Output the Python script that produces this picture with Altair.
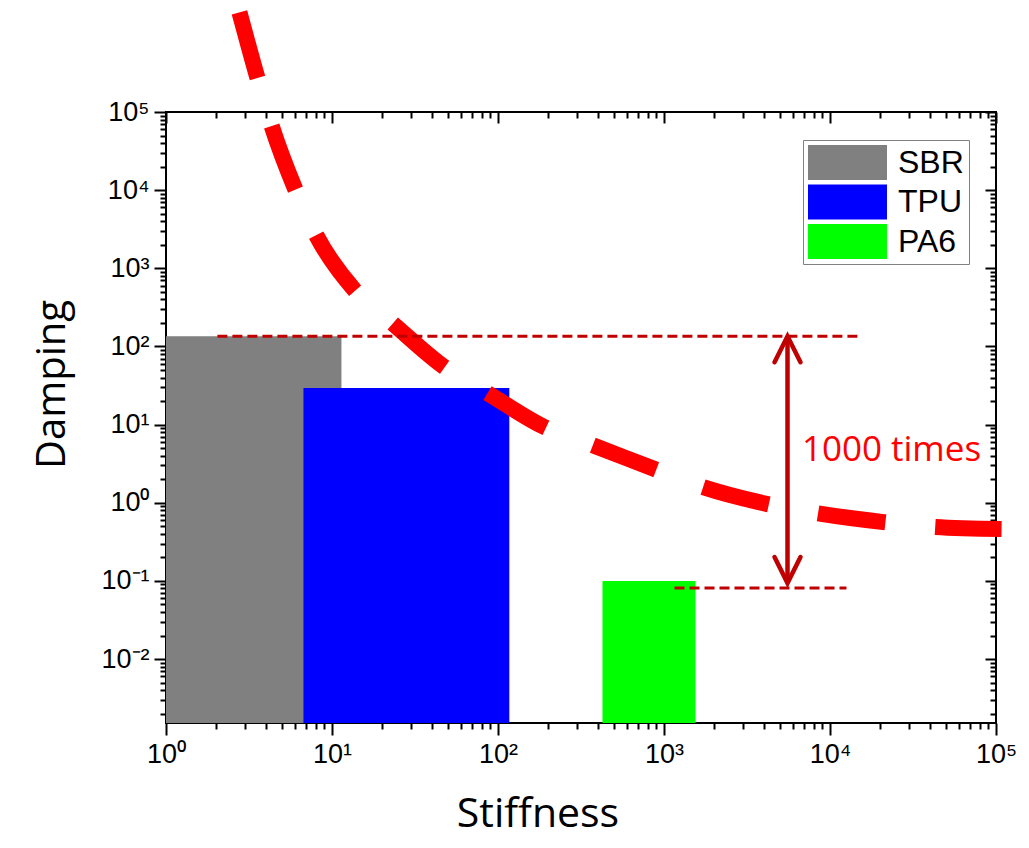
import altair as alt
import pandas as pd

# ---------------- data ----------------
materials = ["SBR", "TPU", "PA6"]
bar_x_lo = [1.0, 6.73, 426.0]
bar_x_hi = [11.4, 117.0, 1549.0]
bar_top = [135.0, 29.3, 0.1]
bar_colors = ["#808080", "#0000ff", "#00ff00"]

X_MIN, X_MAX = 1.0, 1e5
Y_MIN, Y_MAX = 0.00152, 1e5

# big red dashed trend curve
curve_x = [2.77, 3.56, 4.32, 6.03, 8.07, 13.7, 23.1, 47.6, 86.4, 190.6,
           371.0, 877.0, 1706.0, 4200.0, 8290.0, 21000.0, 42650.0, 108000.0]
curve_y = [1.88e6, 2.70e5, 6.76e4, 1.01e4, 2612.0, 525.0, 199.0, 54.3, 25.3, 9.29,
           5.47, 2.70, 1.59, 0.962, 0.738, 0.566, 0.489, 0.460]

# thin dark-red dashed reference lines
ref_y = [135.0, 0.081]
ref_x_lo = [2.04, 1157.0]
ref_x_hi = [15270.0, 12570.0]

# double-headed arrow
arrow_x = [5546.0]
arrow_top = [135.0]
arrow_bottom = [0.0937]

# annotation
note_text = ["1000 times"]
note_x = [23460.0]
note_y = [4.71]

# axis ticks / labels
x_major = [1, 10, 100, 1000, 10000, 100000]
x_labels = ["10\u2070", "10\u00b9", "10\u00b2", "10\u00b3", "10\u2074", "10\u2075"]
y_major = [0.01, 0.1, 1, 10, 100, 1000, 10000, 100000]
y_labels = ["10\u207b\u00b2", "10\u207b\u00b9", "10\u2070", "10\u00b9", "10\u00b2",
            "10\u00b3", "10\u2074", "10\u2075"]
minor_steps = [2, 3, 4, 5, 6, 7, 8, 9]
x_minor = [k * 10.0 ** d for d in range(0, 5) for k in minor_steps]
y_minor = [k * 10.0 ** d for d in range(-3, 5) for k in minor_steps if k * 10.0 ** d >= Y_MIN]


def label_expr(values, labels):
    parts = [f"datum.value == {v} ? '{l}'" for v, l in zip(values, labels)]
    return " : ".join(parts) + " : ''"


# ---------------- tables ----------------
bars = pd.DataFrame({"material": materials, "lo": bar_x_lo, "hi": bar_x_hi,
                     "top": bar_top, "base": [Y_MIN] * len(materials)})
curve = pd.DataFrame({"x": curve_x, "y": curve_y})
refs = pd.DataFrame({"lo": ref_x_lo, "hi": ref_x_hi, "y": ref_y})
shaft = pd.DataFrame({"x": arrow_x, "top": arrow_top, "bottom": arrow_bottom})
heads = pd.DataFrame({"x": arrow_x * 2, "y": arrow_top + arrow_bottom, "angle": [0, 180]})
note = pd.DataFrame({"t": note_text, "x": note_x, "y": note_y})

xs = alt.Scale(type="log", domain=[X_MIN, X_MAX], nice=False)
ys = alt.Scale(type="log", domain=[Y_MIN, Y_MAX], nice=False)

DARK_RED = "#c00000"
LABEL_FONT = "Liberation Sans"
TITLE_FONT = "Open Sans"

legend = alt.Legend(
    title=None, orient="none", legendX=637, legendY=28,
    symbolType="M-1,-1H3.514V1H-1Z", symbolSize=1225, symbolStrokeWidth=0,
    labelFont=LABEL_FONT, labelFontSize=32, labelColor="black", labelOffset=55,
    labelExpr="datum.label + '\u00a0'",
    rowPadding=4.5, padding=5, strokeColor="#808080", fillColor="white",
    cornerRadius=0,
)

bar_layer = alt.Chart(bars).mark_rect(clip=False).encode(
    x=alt.X("lo:Q", scale=xs, axis=alt.Axis(
        orient="bottom", values=x_major, labelExpr=label_expr(x_major, x_labels),
        tickSize=12, labelPadding=6, labelFlush=False, labelOverlap=False,
        title="Stiffness", titleX=371.5, titleY=103, titleAlign="center",
        titleBaseline="alphabetic", titleFontSize=41)),
    x2="hi:Q",
    y=alt.Y("top:Q", scale=ys, axis=alt.Axis(
        orient="left", values=y_major, labelExpr=label_expr(y_major, y_labels),
        tickSize=12, labelPadding=5, labelOverlap=False,
        title="Damping", titleX=-114, titleY=272, titleAlign="center",
        titleBaseline="middle", titleAngle=270)),
    y2="base:Q",
    color=alt.Color("material:N", scale=alt.Scale(domain=materials, range=bar_colors),
                    sort=materials, legend=legend),
)

curve_layer = alt.Chart(curve).mark_line(
    color="#ff0000", strokeWidth=16, strokeDash=[68, 50], interpolate="monotone",
    strokeCap="butt", clip=False,
).encode(
    x=alt.X("x:Q", scale=xs, axis=None),
    y=alt.Y("y:Q", scale=ys, axis=None),
)

ref_layer = alt.Chart(refs).mark_rule(
    color=DARK_RED, strokeWidth=3, strokeDash=[10, 5], clip=False
).encode(
    x=alt.X("lo:Q", scale=xs, axis=None), x2="hi:Q",
    y=alt.Y("y:Q", scale=ys, axis=None),
)

shaft_layer = alt.Chart(shaft).mark_rule(color=DARK_RED, strokeWidth=4.5).encode(
    x=alt.X("x:Q", scale=xs, axis=None),
    y=alt.Y("top:Q", scale=ys, axis=None), y2="bottom:Q",
)

head_layer = alt.Chart(heads).mark_point(
    shape="M-0.5,1L0,0L0.5,1", size=2704, filled=False, color=DARK_RED,
    strokeWidth=4.5, strokeCap="round", strokeJoin="miter", opacity=1,
).encode(
    x=alt.X("x:Q", scale=xs, axis=None),
    y=alt.Y("y:Q", scale=ys, axis=None),
    angle=alt.Angle("angle:Q", scale=None),
)

note_layer = alt.Chart(note).mark_text(
    font=TITLE_FONT, fontSize=35, color="#ff0000", align="center", baseline="middle",
).encode(
    x=alt.X("x:Q", scale=xs, axis=None),
    y=alt.Y("y:Q", scale=ys, axis=None),
    text="t:N",
)


def carrier(xaxis, yaxis):
    return alt.Chart(bars).mark_point(opacity=0).encode(
        x=alt.X("lo:Q", scale=xs, axis=xaxis),
        y=alt.Y("top:Q", scale=ys, axis=yaxis),
    )


blank = dict(labels=False, domain=False, title=None, grid=False)
minor_bl = carrier(
    alt.Axis(orient="bottom", values=x_minor, tickSize=6, **blank),
    alt.Axis(orient="left", values=y_minor, tickSize=6, **blank),
)
major_tr = carrier(
    alt.Axis(orient="top", values=x_major, tickSize=11, offset=-11, **blank),
    alt.Axis(orient="right", values=y_major, tickSize=11, offset=-11, **blank),
)
minor_tr = carrier(
    alt.Axis(orient="top", values=x_minor, tickSize=6, offset=-6, **blank),
    alt.Axis(orient="right", values=y_minor, tickSize=6, offset=-6, **blank),
)

chart = alt.layer(
    bar_layer, curve_layer, ref_layer, shaft_layer, head_layer, note_layer,
    minor_bl, major_tr, minor_tr,
).resolve_scale(
    x="shared", y="shared", color="independent"
).resolve_axis(
    x="independent", y="independent"
).properties(
    width=830, height=611,
    padding={"left": 158, "top": 104, "right": 22, "bottom": 116},
    autosize=alt.AutoSizeParams(type="none"),
    background="white",
).configure_view(
    stroke="black", strokeWidth=2,
).configure_axis(
    grid=False, domain=False, tickColor="black", tickWidth=2, zindex=1,
    labelFont=LABEL_FONT, labelFontSize=27, labelColor="black",
    titleFont=TITLE_FONT, titleFontSize=40, titleFontWeight="normal", titleColor="black",
)

chart.save("out.html", embed_options={"renderer": "svg", "actions": False})
